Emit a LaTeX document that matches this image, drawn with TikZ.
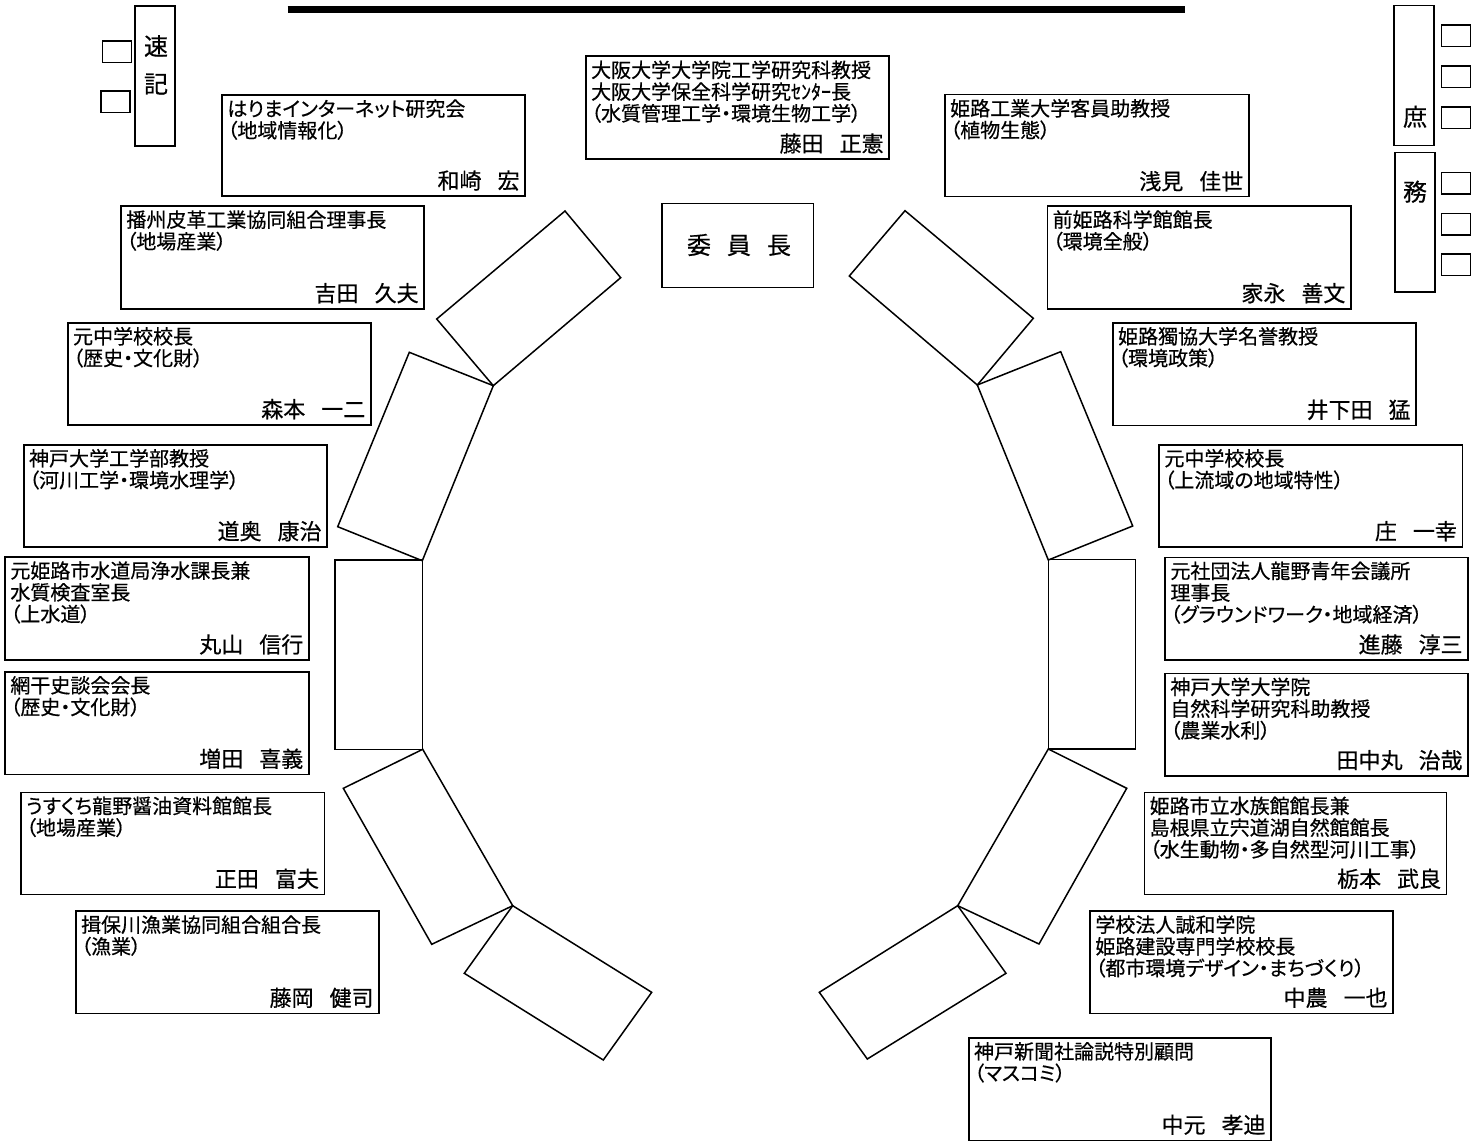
\documentclass[tikz,border=0pt]{standalone}
\usepackage{fontspec}
\setmainfont{Noto Sans CJK JP}[RawFeature={+palt},FakeBold=0.5]
\newcommand{\gp}{\hspace{16pt}}
\tikzset{
  mbox/.style={draw, line width=1.6pt, inner sep=0pt},
  txt/.style={inner sep=0pt, font=\fontsize{20}{21.7}\selectfont},
  nametxt/.style={inner sep=0pt, font=\fontsize{22}{24}\selectfont},
  big/.style={inner sep=0pt, font=\fontsize{24}{26}\selectfont},
  sq/.style={draw, line width=1.6pt, inner sep=0pt, minimum width=29pt, minimum height=21.4pt},
  tbl/.style={draw, line width=1.5pt, line join=miter},
}
\newcommand{\seatbox}[7]{%
  \node[mbox, minimum width={(#4)-(#2)}, minimum height={(#5)-(#3)}] (#1) at ({((#2)+(#4))/2},{((#3)+(#5))/2}) {};
  \foreach \ln [count=\i] in {#6}{
    \node[txt, anchor=base west] (#1-l\i) at ([xshift=6pt, yshift={-22pt-21.7pt*(\i-1)}]#1.north west) {\ln};
  }
  \node[nametxt, anchor=base east] (#1-n) at ([xshift=-6pt, yshift=8pt]#1.south east) {#7};
}
\begin{document}
\begin{tikzpicture}[x=1pt,y=-1pt]
\useasboundingbox (0,0) rectangle (1482,1142);
\fill[white] (0,0) rectangle (1482,1142);

% top thick line
\draw[line width=7.6pt] (287.5,9.5) -- (1184.6,9.5);

% stenographer
\node[mbox, minimum width=40pt, minimum height=140pt] (soku) at (155,76) {};
\node[big] (soku-a) at (156,46) {速};
\node[big] (soku-b) at (156,84) {記};
\node[sq] (sqL1) at (117,51.7) {};
\node[sq] (sqL2) at (115.2,101.9) {};

% secretariat
\node[mbox, minimum width=40pt, minimum height=140pt] (sho) at (1414,75.7) {};
\node[big] (sho-a) at (1415,116.7) {庶};
\node[mbox, minimum width=40pt, minimum height=139.7pt] (mu) at (1415,222.2) {};
\node[big] (mu-a) at (1415,191.7) {務};
\node[sq] (sqR1) at (1455.8,36) {};
\node[sq] (sqR2) at (1455.8,76.7) {};
\node[sq] (sqR3) at (1455.8,118) {};
\node[sq] (sqR4) at (1455.8,183.3) {};
\node[sq] (sqR5) at (1455.8,224) {};
\node[sq] (sqR6) at (1455.8,264.7) {};

% chairman
\node[mbox, minimum width=151.6pt, minimum height=84pt] (chair) at (737.5,245.3) {};
\node[big] (chair-t) at (739,245) {委\hspace{16pt}員\hspace{16pt}長};

% member boxes
\seatbox{os}{585.7}{56.3}{889}{159}{大阪大学大学院工学研究科教授,大阪大学保全科学研究ｾﾝﾀｰ長,（水質管理工学・環境生物工学）}{藤田\gp 正憲}
\seatbox{hr}{222}{95}{525}{196}{はりまインターネット研究会,（地域情報化）}{和崎\gp 宏}
\seatbox{bs}{121}{206}{424}{308.7}{播州皮革工業協同組合理事長,（地場産業）}{吉田\gp 久夫}
\seatbox{mcl}{67.7}{322.7}{370.7}{424.7}{元中学校校長,（歴史・文化財）}{森本\gp 一二}
\seatbox{kd}{23.7}{444.7}{327}{546.7}{神戸大学工学部教授,（河川工学・環境水理学）}{道奥\gp 康治}
\seatbox{hs}{5}{557}{308.7}{660}{元姫路市水道局浄水課長兼,水質検査室長,（上水道）}{丸山\gp 信行}
\seatbox{ab}{5}{671.7}{308.7}{774.3}{網干史談会会長,（歴史・文化財）}{増田\gp 喜義}
\seatbox{us}{20.7}{792.3}{324.3}{894.3}{うすくち龍野醤油資料館館長,（地場産業）}{正田\gp 富夫}
\seatbox{ib}{75.7}{911}{379}{1013.3}{揖保川漁業協同組合組合長,（漁業）}{藤岡\gp 健司}

\seatbox{hk}{944.8}{94.7}{1248.7}{196.7}{姫路工業大学客員助教授,（植物生態）}{浅見\gp 佳世}
\seatbox{ms}{1047.3}{206}{1350.8}{308.7}{前姫路科学館館長,（環境全般）}{家永\gp 善文}
\seatbox{hd}{1112.7}{322.7}{1416}{425.3}{姫路獨協大学名誉教授,（環境政策）}{井下田\gp 猛}
\seatbox{mcr}{1159}{444.7}{1462.3}{546.7}{元中学校校長,（上流域の地域特性）}{庄\gp 一幸}
\seatbox{ss}{1165}{557.3}{1468}{660}{元社団法人龍野青年会議所,理事長,（グラウンドワーク・地域経済）}{進藤\gp 淳三}
\seatbox{kg}{1165}{673.3}{1468}{775.7}{神戸大学大学院,自然科学研究科助教授,（農業水利）}{田中丸\gp 治哉}
\seatbox{sz}{1144.3}{792.3}{1446.5}{894.3}{姫路市立水族館館長兼,島根県立宍道湖自然館館長,（水生動物・多自然型河川工事）}{栃本\gp 武良}
\seatbox{gk}{1090}{911}{1393}{1013.3}{学校法人誠和学院,姫路建設専門学校校長,（都市環境デザイン・まちづくり）}{中農\gp 一也}
\seatbox{ks}{968.7}{1037.7}{1270.9}{1140.3}{神戸新聞社論説特別顧問,（マスコミ）}{中元\gp 孝迪}

% tables (left arc)
\draw[tbl] (565,211) -- (620.7,277.7) -- (493.3,385.7) -- (436.7,319) -- cycle;
\draw[tbl] (409.3,352.3) -- (493.3,385.7) -- (422.3,560.7) -- (337.7,526.7) -- cycle;
\draw[tbl] (335,560) rectangle (422.7,749.3);
\draw[tbl] (422.7,749.3) -- (512.7,905.7) -- (431.7,944.3) -- (343.3,788.3) -- cycle;
\draw[tbl] (512.7,905.7) -- (651.7,992.3) -- (603.3,1060) -- (464.3,973.3) -- cycle;
% tables (right arc)
\draw[tbl] (905,210.7) -- (1033.3,318.3) -- (977.3,385) -- (849.3,276) -- cycle;
\draw[tbl] (977.3,385) -- (1060.7,351.7) -- (1132.7,526) -- (1048.3,560) -- cycle;
\draw[tbl] (1048.3,559.3) rectangle (1135.7,749);
\draw[tbl] (1048.3,749) -- (1126.7,788.3) -- (1039,944) -- (957.7,905.7) -- cycle;
\draw[tbl] (957.7,905.7) -- (1006,973.3) -- (867.3,1059) -- (819.3,992.3) -- cycle;
\end{tikzpicture}
\end{document}
